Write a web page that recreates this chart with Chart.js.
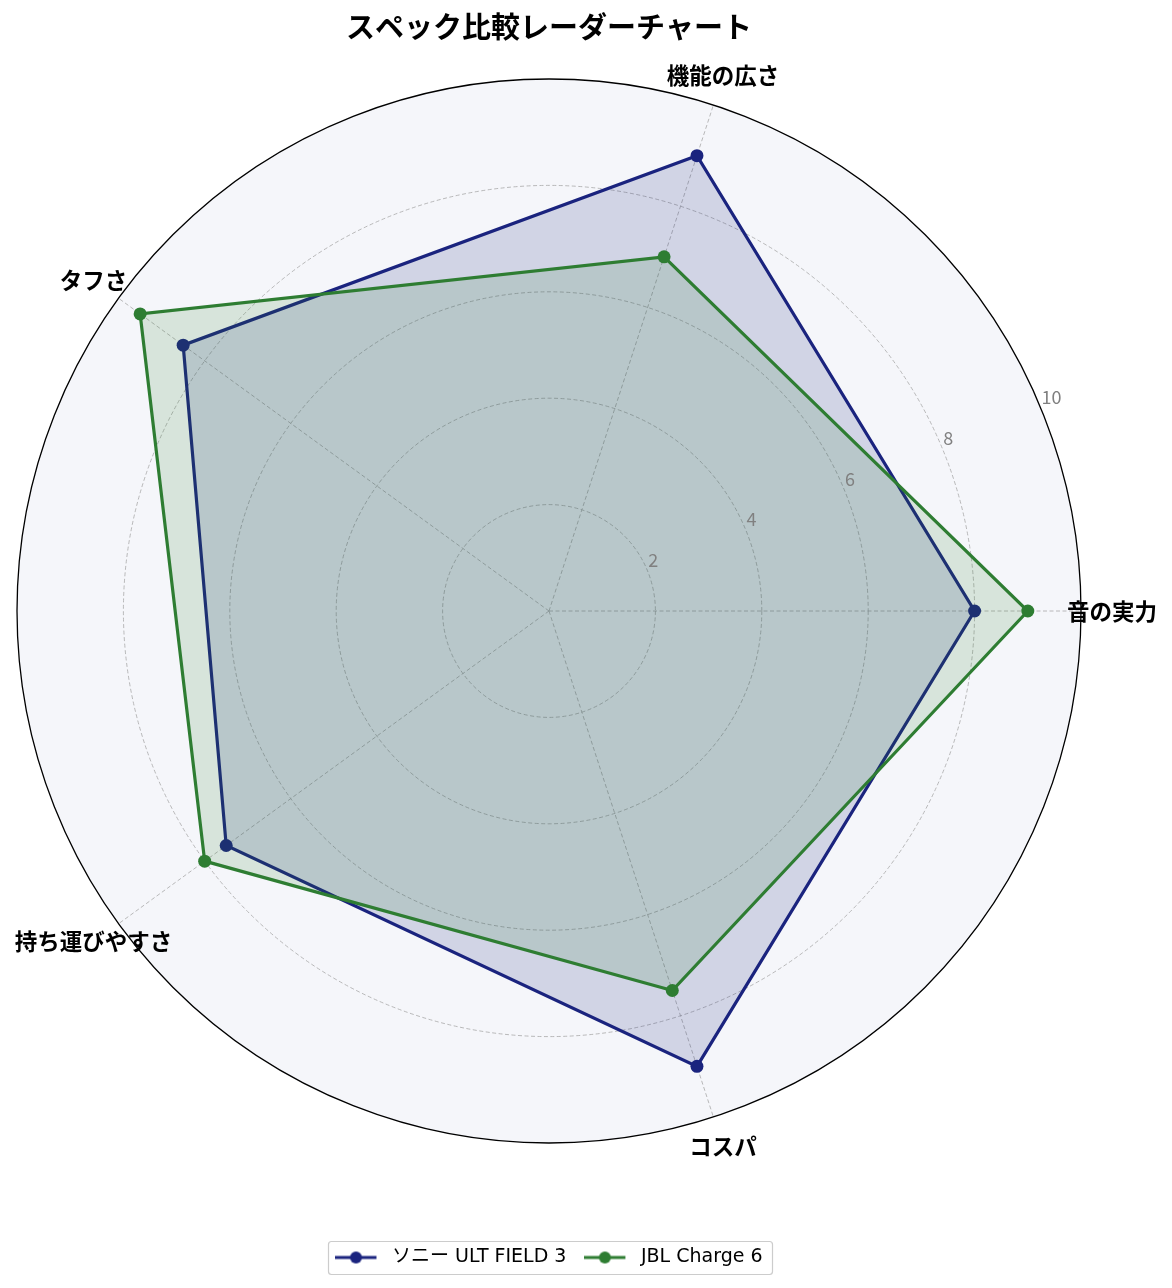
<!DOCTYPE html>
<html><head><meta charset="utf-8">
<script src="https://cdn.jsdelivr.net/npm/chart.js@4.4.0/dist/chart.umd.min.js"></script>
<style>html,body{margin:0;padding:0;background:#fff}#wrap{width:1172px;height:1288px}</style>
</head><body><div id="wrap"><canvas id="c" width="1172" height="1288"></canvas></div>
<script>
// ---- data (matplotlib counter-clockwise order, starting at the right) ----
const categories = ['音の実力', '機能の広さ', 'タフさ', '持ち運びやすさ', 'コスパ'];
const sonyValues = [8, 9, 8.5, 7.5, 9];
const jblValues  = [9, 7, 9.5, 8, 7.5];
const seriesNames = ['ソニー ULT FIELD 3', 'JBL Charge 6'];
const tickValues = [2, 4, 6, 8, 10];
const chartTitle = 'スペック比較レーダーチャート';

const FONT = "'Noto Sans CJK JP', 'Noto Sans', sans-serif";
const LEGEND_FONT = "'DejaVu Sans', 'Noto Sans CJK JP', sans-serif";
const NAVY = '#1a237e', GREEN = '#2e7d32';

// Chart.js walks clockwise; reorder so the layout matches the counter-clockwise reference
const order = [0, 4, 3, 2, 1];
const labels = order.map(i => categories[i]);
const sonyData = order.map(i => sonyValues[i]);
const jblData = order.map(i => jblValues[i]);

function legendIcon(color) {
  const c = document.createElement('canvas');
  c.width = 47; c.height = 14;
  const g = c.getContext('2d');
  g.strokeStyle = color; g.lineWidth = 3;
  g.beginPath(); g.moveTo(0, 7); g.lineTo(41, 7); g.stroke();
  g.fillStyle = color;
  g.beginPath(); g.arc(20.5, 7, 6, 0, Math.PI * 2); g.fill();
  return c;
}
const icons = [legendIcon(NAVY), legendIcon(GREEN)];

const decor = {
  id: 'decor',
  beforeDraw(chart) {
    const s = chart.scales.r, ctx = chart.ctx;
    ctx.save();
    ctx.fillStyle = '#f5f6fa';
    ctx.beginPath();
    ctx.arc(s.xCenter, s.yCenter, s.getDistanceFromCenterForValue(s.max), 0, Math.PI * 2);
    ctx.fill();
    ctx.restore();
  },
  afterDraw(chart) {
    const s = chart.scales.r, ctx = chart.ctx;
    ctx.save();
    // radial tick labels at 22.5 degrees
    const a = 22.5 * Math.PI / 180;
    ctx.font = '18px ' + FONT;
    ctx.fillStyle = '#808080';
    ctx.textAlign = 'left';
    ctx.textBaseline = 'bottom';
    tickValues.forEach(v => {
      const d = s.getDistanceFromCenterForValue(v);
      ctx.fillText(String(v), s.xCenter + d * Math.cos(a) + 1, s.yCenter - d * Math.sin(a) - 1);
    });
    // category labels
    ctx.font = 'bold 22.5px ' + FONT;
    ctx.fillStyle = '#000';
    ctx.textAlign = 'center';
    ctx.textBaseline = 'middle';
    const outer = s.getDistanceFromCenterForValue(s.max) + 31;
    s._pointLabels.forEach((lab, i) => {
      const p = s.getPointPosition(i, outer);
      ctx.fillText(lab, p.x, p.y);
    });
    // legend frame
    const hb = chart.legend.legendHitBoxes;
    if (hb && hb.length) {
      const first = hb[0], last = hb[hb.length - 1];
      const cy = first.top + first.height / 2;
      const x0 = first.left - 7, x1 = last.left + last.width + 10;
      ctx.strokeStyle = '#cccccc';
      ctx.lineWidth = 1.2;
      ctx.beginPath();
      ctx.roundRect(x0, cy - 16, x1 - x0, 33, 3);
      ctx.stroke();
    }
    ctx.restore();
  }
};

new Chart(document.getElementById('c'), {
  type: 'radar',
  data: {
    labels: labels,
    datasets: [
      { label: seriesNames[0], data: sonyData, order: 2,
        borderColor: NAVY, backgroundColor: 'rgba(26,35,126,0.16)', fill: true,
        borderWidth: 3.2, pointRadius: 6.5, pointHoverRadius: 6.5, pointBackgroundColor: NAVY, pointBorderColor: NAVY, pointBorderWidth: 0 },
      { label: seriesNames[1], data: jblData, order: 1,
        borderColor: GREEN, backgroundColor: 'rgba(46,125,50,0.15)', fill: true,
        borderWidth: 3.2, pointRadius: 6.5, pointHoverRadius: 6.5, pointBackgroundColor: GREEN, pointBorderColor: GREEN, pointBorderWidth: 0 }
    ]
  },
  options: {
    responsive: false,
    animation: false,
    devicePixelRatio: 1,
    layout: { padding: { left: 17, right: 91, top: 0, bottom: 11 } },
    elements: { line: { tension: 0 } },
    scales: {
      r: {
        min: 0, max: 10, startAngle: 90,
        ticks: { display: false, stepSize: 2 },
        pointLabels: { display: false },
        grid: {
          circular: true,
          color: c => (c.tick && c.tick.value === 10) ? '#000000' : '#a8a8a8',
          lineWidth: c => (c.tick && c.tick.value === 10) ? 1.3 : 0.8
        },
        border: { dash: c => (c.tick && c.tick.value === 10) ? [] : [4, 2.5] },
        angleLines: { color: '#a8a8a8', lineWidth: 0.8, borderDash: [4, 2.5] }
      }
    },
    plugins: {
      title: {
        display: true, text: chartTitle, color: '#000',
        font: { family: FONT, size: 29, weight: 'bold', lineHeight: 1.2 },
        padding: { top: 9.6, bottom: 34.6 }
      },
      legend: {
        position: 'bottom',
        title: { display: true, text: '', font: { size: 12, lineHeight: 1.2 }, padding: { top: 72.6, bottom: 0 } },
        labels: {
          usePointStyle: true, pointStyleWidth: 47, padding: 18,
          color: '#000', font: { family: LEGEND_FONT, size: 19 },
          sort: (a, b) => a.datasetIndex - b.datasetIndex,
          generateLabels(chart) {
            const items = Chart.defaults.plugins.legend.labels.generateLabels(chart);
            items.forEach(it => { it.pointStyle = icons[it.datasetIndex]; });
            return items;
          }
        }
      },
      tooltip: { enabled: false }
    }
  },
  plugins: [decor]
});
</script>
</body></html>
